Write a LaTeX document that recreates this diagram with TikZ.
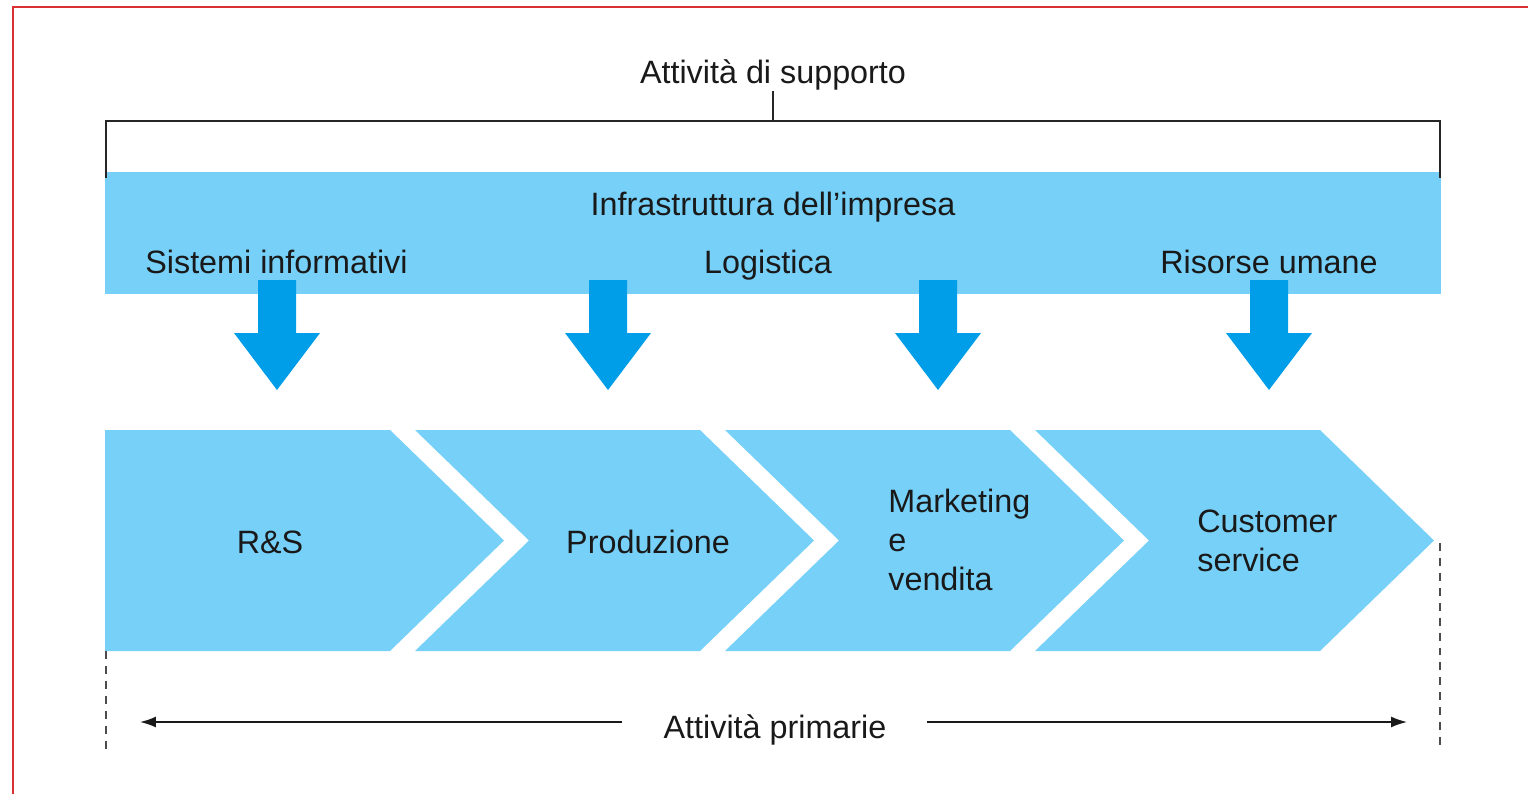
\documentclass[tikz,border=0pt]{standalone}
\usepackage{fontspec}
\setmainfont{Liberation Sans}
\usepackage{xcolor}
\usetikzlibrary{arrows.meta, positioning}

\definecolor{bandblue}{RGB}{118,208,248}
\definecolor{arrowblue}{RGB}{0,158,232}
\definecolor{framered}{RGB}{218,48,52}

\begin{document}
\begin{tikzpicture}[
        x=0.02cm, y=-0.02cm,
        txt/.style={font=\fontsize{18.4}{22}\selectfont, text=black!90, inner sep=0pt},
        bracket/.style={draw=black!85, line width=1pt},
        guide/.style={draw=black!70, line width=1pt, dash pattern=on 4.5pt off 4pt},
        span/.style={draw=black!90, line width=0.9pt, -{Latex[length=0.32cm, width=0.22cm]}}
    ]
    \useasboundingbox (0,0) rectangle (1528,794);
    \draw[framered, line width=0.9pt] (13,794) -- (13,7) -- (1528,7);

    % Support activities
    \fill[bandblue] (105,172) rectangle (1441,294);
    \foreach \cx in {277,608,938,1269} {
        \fill[arrowblue] ({\cx-19},280) -- ({\cx+19},280) -- ({\cx+19},333) -- ({\cx+43},333)
            -- (\cx,390) -- ({\cx-43},333) -- ({\cx-19},333) -- cycle;
    }

    \node[txt, anchor=base] (supp) at (773,84) {Attività di supporto};
    \node[txt, anchor=base] (infra) at (773,215) {Infrastruttura dell’impresa};
    \node[txt, anchor=base west] (sist) at (145,273) {Sistemi informativi};
    \node[txt, anchor=base] (logi) at (768,273) {Logistica};
    \node[txt, anchor=base] (risorse) at (1269,273) {Risorse umane};

    \coordinate (br_mid) at (773,121);
    \coordinate (br_left) at (106,178);
    \coordinate (br_right) at (1440,178);
    \draw[bracket] (br_left) |- (br_mid) -| (br_right);
    \draw[bracket] (br_mid) -- (supp.south);

    % Primary activities
    \fill[bandblue] (105,430) -- (390,430) -- (504,540.5) -- (390,651) -- (105,651) -- cycle;
    \foreach \i in {1,2,3} {
        \fill[bandblue] ({105+310*\i},430) -- ({390+310*\i},430) -- ({504+310*\i},540.5)
            -- ({390+310*\i},651) -- ({105+310*\i},651) -- ({219+310*\i},540.5) -- cycle;
    }

    \node[txt, anchor=base] (rs) at (270,553) {R\&S};
    \node[txt, anchor=base] (prod) at (648,553) {Produzione};
    \node[txt, anchor=west, align=left] (mkt) at (888,540) {Marketing\\e\\vendita};
    \node[txt, anchor=west, align=left] (cust) at (1197,541) {Customer\\service};

    \node[txt, anchor=base] (prim) at (775,738) {Attività primarie};
    \coordinate (prim_l) at (622,722);
    \coordinate (prim_r) at (927,722);
    \coordinate (prim_lend) at (140,722);
    \coordinate (prim_rend) at (1407,722);
    \draw[span] (prim_l) -- (prim_lend);
    \draw[span] (prim_r) -- (prim_rend);

    \coordinate (dash_l_top) at (106,651);
    \coordinate (dash_l_bot) at (106,750);
    \coordinate (dash_r_top) at (1440,543);
    \coordinate (dash_r_bot) at (1440,750);
    \draw[guide] (dash_l_top) -- (dash_l_bot);
    \draw[guide] (dash_r_top) -- (dash_r_bot);
\end{tikzpicture}
\end{document}
